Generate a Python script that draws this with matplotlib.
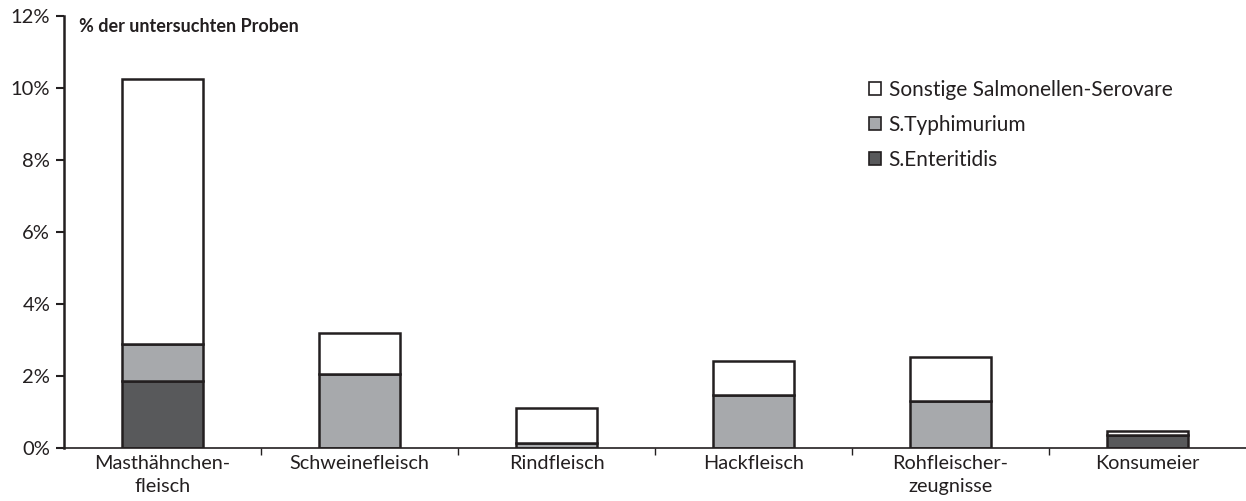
import matplotlib
matplotlib.use("Agg")
import matplotlib.pyplot as plt
import numpy as np
from matplotlib.patches import Patch

categories = ["Masthähnchen-\nfleisch", "Schweinefleisch", "Rindfleisch",
              "Hackfleisch", "Rohfleischer-\nzeugnisse", "Konsumeier"]
enteritidis = [1.85, 0.0, 0.0, 0.0, 0.0, 0.37]
typhimurium = [1.05, 2.05, 0.15, 1.47, 1.30, 0.0]
sonstige = [7.35, 1.15, 0.95, 0.95, 1.22, 0.09]

series = [
    ("S.Enteritidis", enteritidis, "#58595b"),
    ("S.Typhimurium", typhimurium, "#a7a9ac"),
    ("Sonstige Salmonellen-Serovare", sonstige, "#ffffff"),
]

plt.rcParams.update({
    "font.family": ["Lato", "DejaVu Sans"],
    "text.color": "#231f20",
    "axes.edgecolor": "#231f20",
    "xtick.color": "#231f20",
    "ytick.color": "#231f20",
})

fig = plt.figure(figsize=(12.46, 5.01), dpi=100)
ax = fig.add_axes([0.0514, 0.1058, 0.9486, 0.862])

x = np.arange(len(categories))
bottom = np.zeros(len(categories))
for label, vals, color in series:
    vals = np.array(vals)
    ax.bar(x, vals, 0.41, bottom=bottom, color=color, edgecolor="#231f20",
           linewidth=1.8, label=label)
    bottom += vals

ax.set_xlim(-0.5, len(categories) - 0.5)
ax.set_ylim(0, 12)
ax.set_yticks(np.arange(0, 13, 2))
ax.set_yticklabels([f"{v}%" for v in range(0, 13, 2)], fontsize=14.5)
ax.set_xticks(x)
ax.set_xticklabels(categories, fontsize=14.3, linespacing=1.4)
ax.tick_params(axis="x", length=0, pad=5)
ax.set_xticks(np.arange(0.5, len(categories) - 0.5, 1), minor=True)
ax.tick_params(axis="x", which="minor", length=5, width=1.0, direction="out")
ax.tick_params(axis="y", length=6, width=1.5, pad=4)
for s in ["top", "right"]:
    ax.spines[s].set_visible(False)
ax.spines["left"].set_linewidth(1.8)
ax.spines["bottom"].set_linewidth(1.2)

ax.text(0.013, 0.995, "% der untersuchten Proben", transform=ax.transAxes,
        fontsize=13, fontweight="bold", va="top", ha="left")

handles = [Patch(facecolor=c, edgecolor="#231f20", linewidth=1.2, label=l)
           for l, _, c in series[::-1]]
ax.legend(handles=handles, loc="upper left", bbox_to_anchor=(0.665, 0.895),
          frameon=False, fontsize=15, handlelength=0.6, handleheight=0.6,
          handletextpad=0.35, labelspacing=0.72)

fig.savefig("out.png", dpi=100)
